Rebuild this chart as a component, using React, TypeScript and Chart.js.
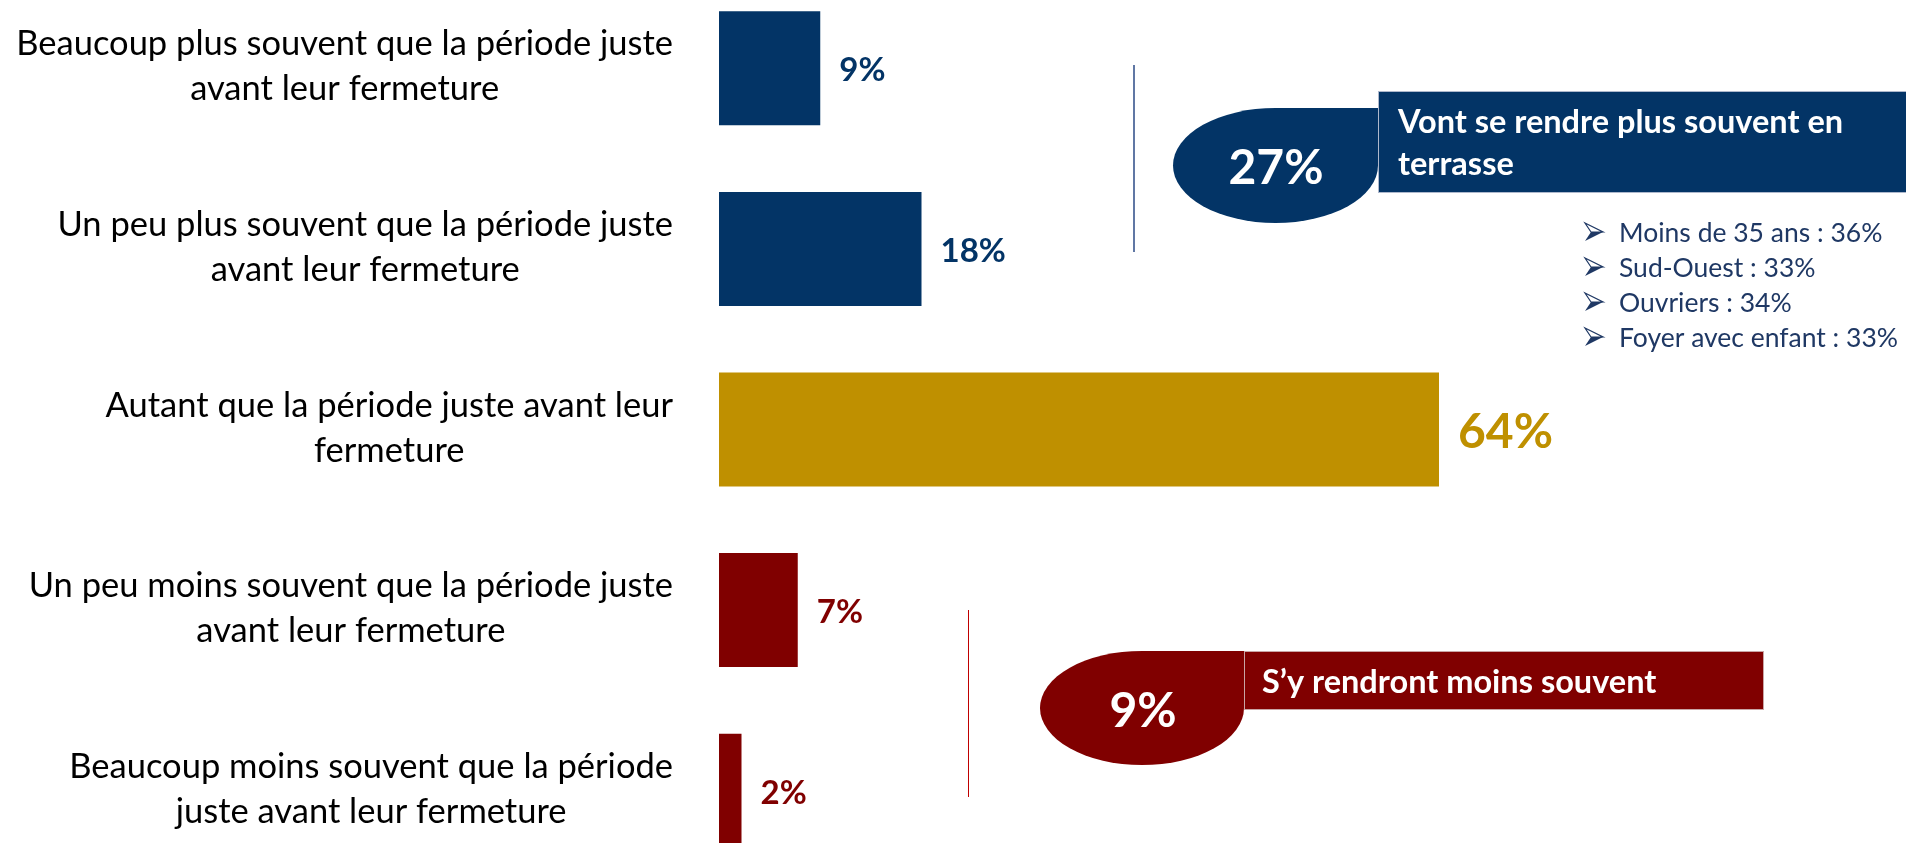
import React, { useEffect, useRef } from "react";
import { Chart, registerables } from "chart.js";

Chart.register(...registerables);

// ---------- data ----------
const categories: string[][] = [
  ["Beaucoup plus souvent que la période juste", "avant leur fermeture"],
  ["Un peu plus souvent que la période juste", "avant leur fermeture"],
  ["Autant que la période juste avant leur", "fermeture"],
  ["Un peu moins souvent que la période juste", "avant leur fermeture"],
  ["Beaucoup moins souvent que la période", "juste avant leur fermeture"],
];
const values: number[] = [9, 18, 64, 7, 2];
const valueLabels: string[] = ["9%", "18%", "64%", "7%", "2%"];

const upSummaryValue = "27%";
const upSummaryLabel: string[] = ["Vont se rendre plus souvent en", "terrasse"];
const upDetails: string[] = [
  "Moins de 35 ans : 36%",
  "Sud-Ouest : 33%",
  "Ouvriers : 34%",
  "Foyer avec enfant : 33%",
];
const downSummaryValue = "9%";
const downSummaryLabel: string[] = ["S’y rendront moins souvent"];

// ---------- style ----------
const BLUE = "#033466";
const GOLD = "#BF9000";
const RED = "#800000";
const barColors = [BLUE, BLUE, GOLD, RED, RED];
const FONT = "Lato, 'Open Sans', sans-serif";
const OFFSET_Y = 40; // canvas top sits 40px above the page top
const CANVAS_W = 1906;
const CANVAS_H = 930;

function teardrop(ctx: CanvasRenderingContext2D, x0: number, y0: number, x1: number, y1: number, color: string) {
  const cx = (x0 + x1) / 2;
  const cy = (y0 + y1) / 2;
  const rx = (x1 - x0) / 2;
  const ry = (y1 - y0) / 2;
  ctx.beginPath();
  ctx.moveTo(cx, y0);
  ctx.lineTo(x1, y0);
  ctx.lineTo(x1, cy);
  ctx.ellipse(cx, cy, rx, ry, 0, 0, Math.PI * 1.5);
  ctx.closePath();
  ctx.fillStyle = color;
  ctx.fill();
}

function arrowBullet(ctx: CanvasRenderingContext2D, x: number, cy: number, color: string) {
  const w = 18;
  const h = 9;
  ctx.save();
  ctx.fillStyle = color;
  ctx.strokeStyle = color;
  ctx.lineWidth = 1.2;
  ctx.beginPath();
  ctx.moveTo(x, cy - h);
  ctx.lineTo(x + w, cy);
  ctx.lineTo(x + 6, cy);
  ctx.closePath();
  ctx.stroke();
  ctx.beginPath();
  ctx.moveTo(x, cy + h);
  ctx.lineTo(x + w, cy);
  ctx.lineTo(x + 6, cy);
  ctx.closePath();
  ctx.fill();
  ctx.restore();
}

const overlayPlugin = {
  id: "overlay",
  afterDatasetsDraw(chart: any) {
    const ctx: CanvasRenderingContext2D = chart.ctx;
    const xs = chart.scales.x;
    const ys = chart.scales.y;
    const py = (y: number) => y + OFFSET_Y;
    ctx.save();

    // category labels (right-aligned block, centred lines)
    ctx.font = `400 34.5px ${FONT}`;
    ctx.fillStyle = "#000";
    ctx.textBaseline = "alphabetic";
    ctx.textAlign = "center";
    categories.forEach((lines, i) => {
      const yc = ys.getPixelForValue(i);
      const maxW = Math.max(...lines.map((l) => ctx.measureText(l).width));
      const cx = 673 - maxW / 2;
      lines.forEach((l, k) => ctx.fillText(l, cx, yc - 13 + k * 45));
    });

    // value labels
    ctx.textAlign = "left";
    values.forEach((v, i) => {
      const big = v === Math.max(...values);
      const size = big ? 48 : 33;
      ctx.font = `700 ${size}px ${FONT}`;
      ctx.fillStyle = barColors[i];
      const yc = ys.getPixelForValue(i);
      ctx.fillText(valueLabels[i], xs.getPixelForValue(v) + 19, yc + size * 0.36 + 1);
    });

    // ---- upper callout ----
    ctx.strokeStyle = "#2B4A86";
    ctx.lineWidth = 1.5;
    ctx.beginPath();
    ctx.moveTo(1134, py(65));
    ctx.lineTo(1134, py(252));
    ctx.stroke();

    ctx.fillStyle = BLUE;
    ctx.fillRect(1378, py(91), 540, 102);
    ctx.strokeStyle = "#AEB8CC";
    ctx.lineWidth = 1;
    ctx.strokeRect(1378.5, py(91) + 0.5, 540, 101);
    teardrop(ctx, 1173, py(108), 1378, py(223), BLUE);

    ctx.fillStyle = "#fff";
    ctx.font = `700 48px ${FONT}`;
    ctx.textAlign = "center";
    ctx.fillText(upSummaryValue, 1276, py(167) + 48 * 0.36);
    ctx.textAlign = "left";
    ctx.font = `700 32.5px ${FONT}`;
    upSummaryLabel.forEach((l, k) => ctx.fillText(l, 1398, py(133) + k * 42));

    ctx.font = `400 26.5px ${FONT}`;
    ctx.fillStyle = "#1F3864";
    upDetails.forEach((l, k) => {
      const base = py(242) + k * 35;
      arrowBullet(ctx, 1585, base - 10, "#1F3864");
      ctx.fillText(l, 1619, base);
    });

    // ---- lower callout ----
    ctx.strokeStyle = "#C00000";
    ctx.lineWidth = 1;
    ctx.beginPath();
    ctx.moveTo(968.5, py(610));
    ctx.lineTo(968.5, py(797));
    ctx.stroke();

    ctx.fillStyle = RED;
    ctx.fillRect(1244, py(651), 520, 59);
    ctx.strokeStyle = "#C9A5A5";
    ctx.strokeRect(1244.5, py(651) + 0.5, 519, 58);
    teardrop(ctx, 1040, py(651), 1244, py(765), RED);

    ctx.fillStyle = "#fff";
    ctx.font = `700 48px ${FONT}`;
    ctx.textAlign = "center";
    ctx.fillText(downSummaryValue, 1143, py(710) + 48 * 0.36);
    ctx.textAlign = "left";
    ctx.font = `700 32.5px ${FONT}`;
    downSummaryLabel.forEach((l, k) => ctx.fillText(l, 1262, py(693) + k * 42));

    ctx.restore();
  },
};

export default function App() {
  const ref = useRef<HTMLCanvasElement>(null);
  useEffect(() => {
    if (!ref.current) return;
    const chart = new Chart(ref.current, {
      type: "bar",
      data: {
        labels: categories.map((c) => c.join(" ")),
        datasets: [
          {
            data: values,
            backgroundColor: barColors,
            borderWidth: 0,
            barPercentage: 0.631,
            categoryPercentage: 1,
          },
        ],
      },
      options: {
        indexAxis: "y",
        animation: false,
        responsive: false,
        devicePixelRatio: 1,
        layout: { padding: { left: 719, right: 62, top: 18, bottom: 9 } },
        plugins: { legend: { display: false }, tooltip: { enabled: false } },
        scales: {
          x: { display: false, min: 0, max: 100 },
          y: { display: false, offset: true },
        },
      },
      plugins: [overlayPlugin],
    });
    return () => chart.destroy();
  }, []);

  return (
    <div
      style={{
        position: "fixed",
        left: 0,
        top: 0,
        width: "1906px",
        height: "843px",
        overflow: "hidden",
        background: "#fff",
      }}
    >
      <canvas
        ref={ref}
        width={CANVAS_W}
        height={CANVAS_H}
        style={{ position: "absolute", left: 0, top: -OFFSET_Y, width: `${CANVAS_W}px`, height: `${CANVAS_H}px` }}
      />
    </div>
  );
}
